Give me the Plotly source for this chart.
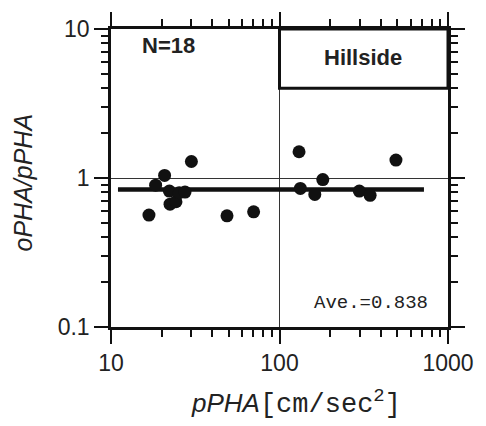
import plotly.graph_objects as go

# ---- data ----
pPHA = [16.8, 18.4, 20.8, 22.2, 22.4, 24.3, 25.4, 27.5, 30.0, 48.8, 70.2,
        130.6, 133.0, 162.0, 180.7, 297.6, 345.0, 491.0]
ratio = [0.564, 0.895, 1.04, 0.817, 0.667, 0.693, 0.796, 0.804, 1.29, 0.557, 0.593,
         1.50, 0.851, 0.776, 0.976, 0.817, 0.765, 1.32]
ave = 0.838
ave_span = [11, 720]
n_label = "N=18"
site_label = "Hillside"

FONT = "Liberation Sans, Arial, Helvetica, sans-serif"
MONO = "Liberation Mono, DejaVu Sans Mono, monospace"

fig = go.Figure()
fig.add_trace(go.Scatter(x=ave_span, y=[ave, ave], mode="lines",
                         line=dict(color="#111", width=4.5), hoverinfo="skip",
                         showlegend=False))
fig.add_trace(go.Scatter(x=pPHA, y=ratio, mode="markers",
                         marker=dict(color="#111", size=13, line=dict(width=0)),
                         showlegend=False))

# Hillside box
fig.add_shape(type="rect", xref="x", yref="y", x0=100, x1=1000, y0=4, y1=10,
              line=dict(color="#111", width=3), fillcolor="rgba(0,0,0,0)", layer="above")

axis_common = dict(
    type="log", showline=True, linecolor="#111", linewidth=2.5, mirror="allticks",
    ticks="outside", ticklen=14, tickwidth=1.5, tickcolor="#111",
    showgrid=True, gridcolor="#333", gridwidth=1, zeroline=False,
    tickfont=dict(family=FONT, size=23, color="#222"),
    dtick=1,
    minor=dict(dtick="D1", ticks="outside", ticklen=7, tickwidth=1.5,
               tickcolor="#111", showgrid=False),
)

fig.update_xaxes(range=[1, 3], **axis_common)
fig.update_yaxes(range=[-1, 1], **axis_common)

ann = []
ann.append(dict(xref="paper", yref="paper", x=0.55, y=-0.253, xanchor="center", yanchor="middle",
                text="<i>pPHA</i><span style='font-family:Liberation Mono;font-size:27px'>[cm/sec<sup>2</sup>]</span>",
                showarrow=False, font=dict(family=FONT, size=26, color="#222")))
ann.append(dict(xref="paper", yref="paper", x=-0.262, y=0.484, xanchor="center", yanchor="middle",
                text="<i>oPHA/pPHA</i>", textangle=-90,
                showarrow=False, font=dict(family=FONT, size=25, color="#222")))
ann.append(dict(xref="paper", yref="paper", x=0.171, y=0.944, xanchor="center", yanchor="middle",
                text="<b>%s</b>" % n_label, showarrow=False,
                font=dict(family=FONT, size=22, color="#222")))
ann.append(dict(xref="paper", yref="paper", x=0.749, y=0.903, xanchor="center", yanchor="middle",
                text="<b>%s</b>" % site_label, showarrow=False,
                font=dict(family=FONT, size=22, color="#222")))
ann.append(dict(xref="paper", yref="paper", x=0.772, y=0.081, xanchor="center", yanchor="middle",
                text="Ave.=%.3f" % ave, showarrow=False,
                font=dict(family=MONO, size=19, color="#222")))

fig.update_layout(
    width=486, height=426, margin=dict(l=111, r=33, t=25, b=99),
    paper_bgcolor="white", plot_bgcolor="white", annotations=ann,
    font=dict(family=FONT, color="#222"),
)

fig.write_html("out.html")
